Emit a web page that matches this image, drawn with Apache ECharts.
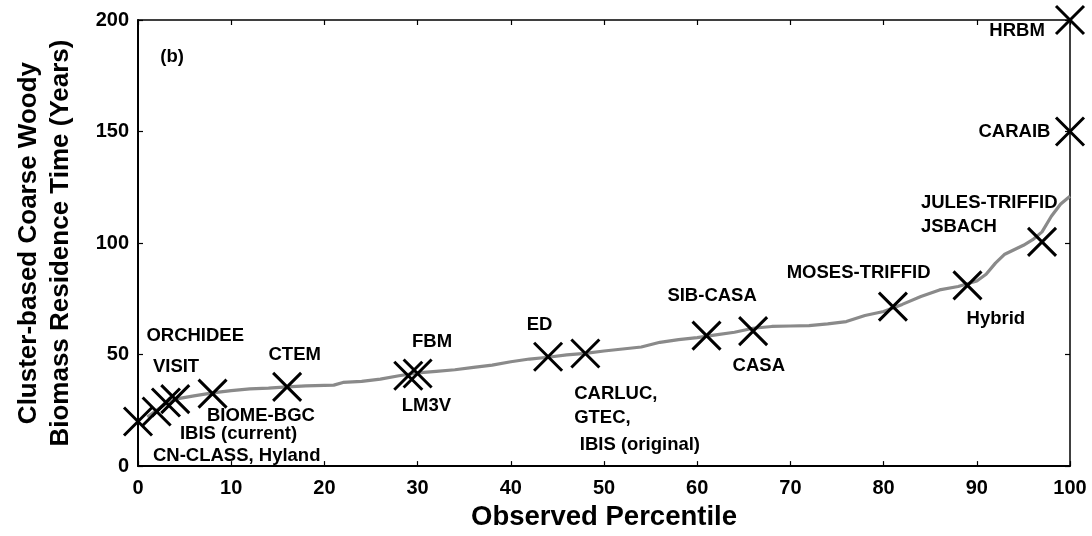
<!DOCTYPE html>
<html>
<head>
<meta charset="utf-8">
<script src="https://cdn.jsdelivr.net/npm/echarts@6/dist/echarts.min.js"></script>
<style>
html,body{margin:0;padding:0;background:#fff;}
#chart{width:1092px;height:536px;}
</style>
</head>
<body>
<div id="chart"></div>
<script>
// Observed cumulative curve (percentile vs residence time)
const curveX = [1,2,3,4,6,8,10,12,14,16,18,20,21,22,24,26,28,30,32,34,36,38,40,42,44,46,48,50,52,54,56,58,60,62,64,66,68,70,72,74,76,78,80,82,84,86,88,90,91,92,93,94,95,96,97,98,99,100];
const curveY = [22,25,28,30,31.5,32.8,33.8,34.6,35,35.5,36,36.2,36.3,37.5,38,39,40.5,41.8,42.5,43.2,44.3,45.3,46.8,48,48.8,49.9,50.5,51.6,52.5,53.4,55.5,56.7,57.6,58.8,60,61.8,62.6,62.8,63,63.8,64.8,67.5,69.3,72.5,76,79,80.5,83,86,91,95,97,99,101.5,105,112,117.5,121];

// Model markers (percentile, residence time)
const modelX = [0,2,3,4,8,16,29,30,44,48,61,66,81,89,97,100,100];
const modelY = [20,24.5,28.5,30,32.5,35.5,40.5,41.5,49,50.5,58.5,60.5,71.5,81,100.5,150,200];

// Text annotations: [text, x, y, anchor]
const annotations = [
  ['(b)', 2.4, 183.5, 'left'],
  ['ORCHIDEE', 0.9, 58.5, 'left'],
  ['VISIT', 1.6, 44.4, 'left'],
  ['CTEM', 14, 49.9, 'left'],
  ['BIOME-BGC', 7.4, 22.3, 'left'],
  ['IBIS (current)', 4.5, 14.4, 'left'],
  ['CN-CLASS, Hyland', 1.6, 4.4, 'left'],
  ['FBM', 29.4, 55.6, 'left'],
  ['LM3V', 28.3, 26.8, 'left'],
  ['ED', 41.7, 63.5, 'left'],
  ['CARLUC,', 46.8, 32.4, 'left'],
  ['GTEC,', 46.8, 21.4, 'left'],
  ['IBIS (original)', 47.4, 9.4, 'left'],
  ['SIB-CASA', 56.8, 76.5, 'left'],
  ['CASA', 63.8, 45.1, 'left'],
  ['MOSES-TRIFFID', 69.6, 86.7, 'left'],
  ['JULES-TRIFFID', 84, 117.8, 'left'],
  ['JSBACH', 84, 107.3, 'left'],
  ['Hybrid', 88.9, 66, 'left'],
  ['HRBM', 97.3, 195.3, 'right'],
  ['CARAIB', 97.9, 150, 'right']
];

const xTicks = {min: 0, max: 100, interval: 10};
const yTicks = {min: 0, max: 200, interval: 50};

const FONT = '"Liberation Sans", Arial, sans-serif';
const chart = echarts.init(document.getElementById('chart'), null, {renderer: 'canvas'});

const curveData = curveX.map((x, i) => [x, curveY[i]]);
const modelData = modelX.map((x, i) => [x, modelY[i]]);
const annData = annotations.map(a => ({
  value: [a[1], a[2]],
  label: {
    show: true,
    formatter: a[0],
    position: a[3] === 'right' ? 'left' : 'right',
    distance: 0
  }
}));

const tickStyle = {show: true, inside: true, length: 5, lineStyle: {color: '#000', width: 1.2}};

chart.setOption({
  backgroundColor: '#fff',
  animation: false,
  grid: {left: 138, right: 22, top: 20, bottom: 69, containLabel: false},
  xAxis: [{
    type: 'value', min: xTicks.min, max: xTicks.max, interval: xTicks.interval,
    position: 'bottom',
    axisLine: {show: true, onZero: false, lineStyle: {color: '#000', width: 2}},
    axisTick: tickStyle,
    splitLine: {show: false},
    axisLabel: {color: '#000', fontFamily: FONT, fontWeight: 'bold', fontSize: 20, margin: 12},
    name: 'Observed Percentile', nameLocation: 'middle', nameGap: 27,
    nameTextStyle: {color: '#000', fontFamily: FONT, fontWeight: 'bold', fontSize: 27.5, verticalAlign: 'top'}
  }, {
    type: 'value', min: xTicks.min, max: xTicks.max, interval: xTicks.interval,
    position: 'top',
    axisLine: {show: true, onZero: false, lineStyle: {color: '#000', width: 1.5}},
    axisTick: tickStyle,
    splitLine: {show: false},
    axisLabel: {show: false}
  }],
  yAxis: [{
    type: 'value', min: yTicks.min, max: yTicks.max, interval: yTicks.interval,
    position: 'left',
    axisLine: {show: true, onZero: false, lineStyle: {color: '#000', width: 2}},
    axisTick: tickStyle,
    splitLine: {show: false},
    axisLabel: {color: '#000', fontFamily: FONT, fontWeight: 'bold', fontSize: 20, margin: 9},
    name: 'Cluster-based Coarse Woody\nBiomass Residence Time (Years)',
    nameLocation: 'middle', nameGap: 61, nameRotate: 90,
    nameTextStyle: {color: '#000', fontFamily: FONT, fontWeight: 'bold', fontSize: 26, lineHeight: 32, align: 'center'}
  }, {
    type: 'value', min: yTicks.min, max: yTicks.max, interval: yTicks.interval,
    position: 'right',
    axisLine: {show: true, onZero: false, lineStyle: {color: '#000', width: 1.5}},
    axisTick: tickStyle,
    splitLine: {show: false},
    axisLabel: {show: false}
  }],
  series: [{
    type: 'line',
    data: curveData,
    xAxisIndex: 0, yAxisIndex: 0,
    showSymbol: false,
    symbol: 'none',
    lineStyle: {color: '#8a8a8a', width: 3.2},
    z: 2
  }, {
    type: 'scatter',
    data: modelData,
    xAxisIndex: 0, yAxisIndex: 0,
    symbol: 'path://M0,0L10,10M10,0L0,10',
    symbolSize: 28,
    clip: false,
    itemStyle: {color: 'rgba(0,0,0,0)', borderColor: '#000', borderWidth: 3, opacity: 1},
    z: 3
  }, {
    type: 'scatter',
    data: annData,
    xAxisIndex: 0, yAxisIndex: 0,
    symbolSize: 0,
    clip: false,
    itemStyle: {opacity: 1},
    label: {color: '#000', fontFamily: FONT, fontWeight: 'bold', fontSize: 18.5},
    z: 4
  }]
});
</script>
</body>
</html>
